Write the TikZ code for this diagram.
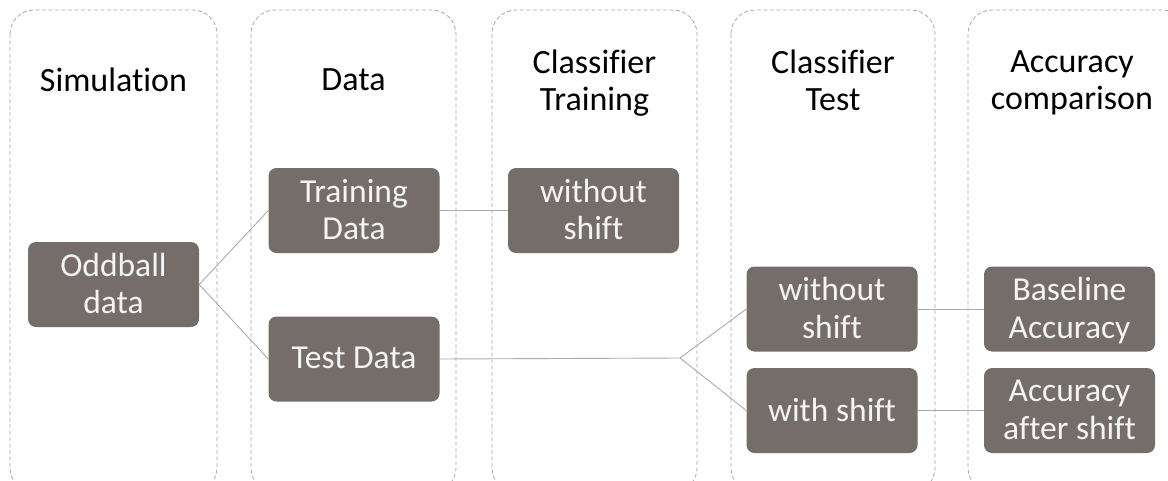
\documentclass[tikz,border=0pt]{standalone}
\usepackage{fontspec}
\setmainfont{Carlito}[Ligatures=CommonOff]
\begin{document}
\begin{tikzpicture}[x=1pt,y=-1pt,
  lane/.style={draw=lanegray,dash pattern=on 4pt off 2.5pt,line width=0.8pt,rounded corners=24pt},
  head/.style={text=black,align=center,font=\fontsize{34}{37.5}\selectfont,inner sep=0pt,text depth=8pt},
  stage/.style={fill=boxfill,rounded corners=8pt,minimum width=171pt,minimum height=85pt,
    text=boxtext,align=center,font=\fontsize{33.5}{37.5}\selectfont,inner sep=0pt,text depth=2pt},
  link/.style={draw=linkgray,line width=0.9pt}]
\definecolor{lanegray}{HTML}{A8A8A8}
\definecolor{boxfill}{HTML}{746D6A}
\definecolor{boxtext}{HTML}{F4F4F4}
\definecolor{linkgray}{HTML}{ABABAB}
\useasboundingbox (0,0) rectangle (1168,480);
\clip (0,0) rectangle (1168,480);

% dashed swim lanes
\draw[lane] (10,10) rectangle (217,492);
\draw[lane] (251,10) rectangle (456,492);
\draw[lane] (492,10) rectangle (697,492);
\draw[lane] (731,10) rectangle (935,492);
\draw[lane] (968,10) rectangle (1186,492);

% lane headings
\node[head] (hsim) at (113.5,84) {Simulation};
\node[head] (hdata) at (353.5,84) {Data};
\node[head] (htrain) at (594.5,84) {Classifier\\Training};
\node[head] (htest) at (833,84) {Classifier\\Test};
\node[head] (hacc) at (1072,84) {Accuracy\\comparison};

% process boxes
\node[stage] (odd) at (113.5,284.5) {Oddball\\data};
\node[stage] (train) at (354,210.5) {Training\\Data};
\node[stage] (test) at (354,359) {Test Data};
\node[stage] (ctrain) at (593.5,210.5) {without\\shift};
\node[stage] (cnoshift) at (832,309) {without\\shift};
\node[stage] (cshift) at (832,410.5) {with shift};
\node[stage] (base) at (1069.5,309) {Baseline\\Accuracy};
\node[stage] (after) at (1069.5,410.5) {Accuracy\\after shift};

% connectors
\coordinate (split) at (680,358);
\draw[link] (odd.east) -- (train.west);
\draw[link] (odd.east) -- (test.west);
\draw[link] (train.east) -- (ctrain.west);
\draw[link] (test.east) -- (split);
\draw[link] (split) -- (cnoshift.west);
\draw[link] (split) -- (cshift.west);
\draw[link] (cnoshift.east) -- (base.west);
\draw[link] (cshift.east) -- (after.west);
\end{tikzpicture}
\end{document}
